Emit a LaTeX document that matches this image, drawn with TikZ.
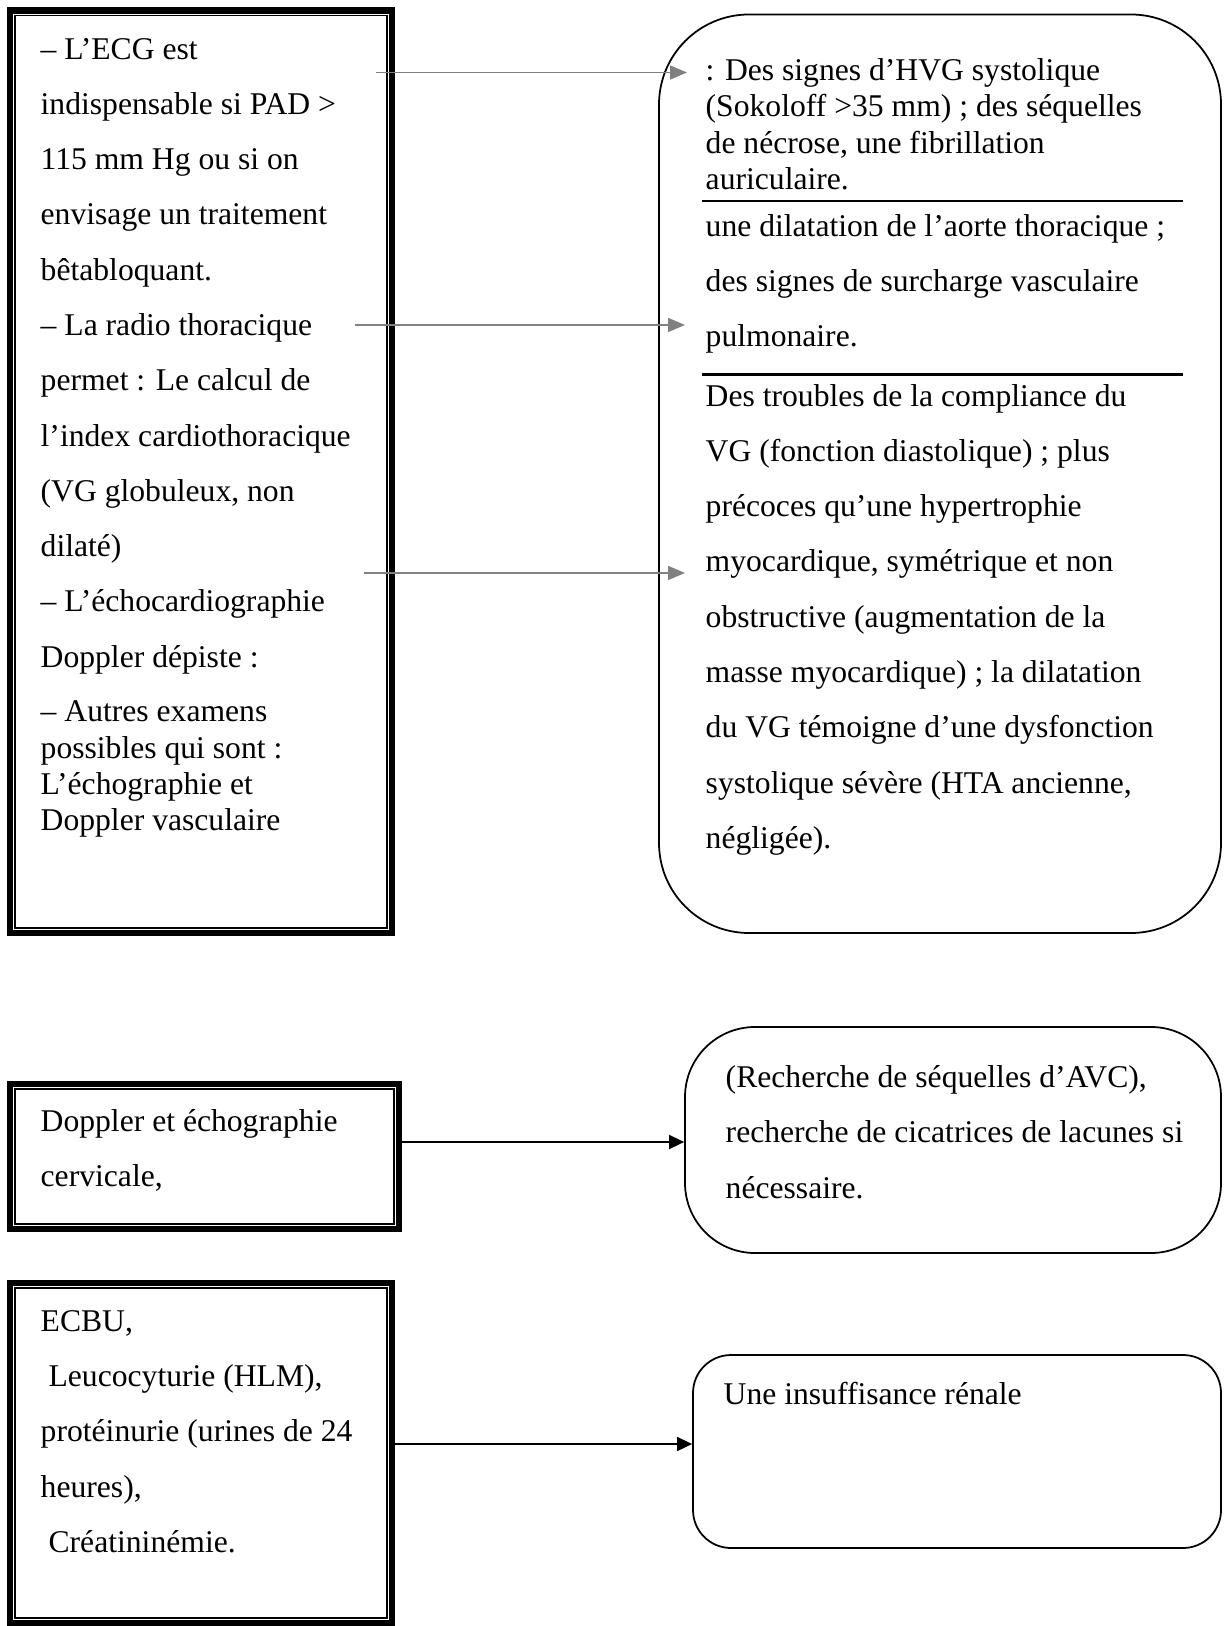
\documentclass[tikz,border=0pt]{standalone}
\usepackage{fontspec}
\setmainfont{Liberation Serif}
\usepackage{tikz}
\usetikzlibrary{arrows.meta,positioning,calc}

\begin{document}
\begin{tikzpicture}[
    outerframe/.style={draw, line width=1.8pt, inner sep=0pt},
    innerframe/.style={draw, line width=0.45pt},
    roundbox/.style={draw, line width=0.5pt, inner sep=0pt},
    txt/.style={anchor=north west, inner sep=0pt, align=left,
      font=\fontsize{9}{15.73}\selectfont},
    txtsingle/.style={txt, font=\fontsize{9}{10.33}\selectfont},
    rule/.style={line width=0.7pt},
    grayarrow/.style={draw=gray, line width=0.45pt,
      -{Triangle[length=1.7mm, width=1.4mm]}},
    blackarrow/.style={draw=black, line width=0.45pt,
      -{Triangle[length=1.5mm, width=1.4mm]}}
]
\useasboundingbox (0,0) rectangle (12.24,-16.26);

% ---- Bloc du haut ----
\node[outerframe, minimum width=3.82cm, minimum height=9.225cm] (ecgbox) at (2.01,-4.7175) {};
\draw[innerframe] ([shift={(0.08,-0.08)}]ecgbox.north west) rectangle ([shift={(-0.08,0.08)}]ecgbox.south east);

\node[txt] (ecg) at (0.40,-0.374) {– L’ECG est\\
  indispensable si PAD >\\
  115 mm Hg ou si on\\
  envisage un traitement\\
  bêtabloquant.\\
  – La radio thoracique\\
  permet : Le calcul de\\
  l’index cardiothoracique\\
  (VG globuleux, non\\
  dilaté)\\
  – L’échocardiographie\\
  Doppler dépiste :};
\node[txtsingle] (autres) at (0.40,-7.003) {– Autres examens\\
  possibles qui sont :\\
  L’échographie et\\
  Doppler vasculaire};

\node[roundbox, rounded corners=0.9cm, minimum width=5.62cm, minimum height=9.185cm] (signes) at (9.40,-4.7375) {};

\node[txtsingle] (hvg) at (7.05,-0.579) {: Des signes d’HVG systolique\\
  (Sokoloff >35 mm) ; des séquelles\\
  de nécrose, une fibrillation\\
  auriculaire.};
\draw[rule] (7.02,-2.01) -- (11.83,-2.01);
\node[txt] (aorte) at (7.05,-2.134) {une dilatation de l’aorte thoracique ;\\
  des signes de surcharge vasculaire\\
  pulmonaire.};
\draw[rule] (7.02,-3.745) -- (11.83,-3.745);
\node[txt] (compliance) at (7.05,-3.834) {Des troubles de la compliance du\\
  VG (fonction diastolique) ; plus\\
  précoces qu’une hypertrophie\\
  myocardique, symétrique et non\\
  obstructive (augmentation de la\\
  masse myocardique) ; la dilatation\\
  du VG témoigne d’une dysfonction\\
  systolique sévère (HTA ancienne,\\
  négligée).};

% Flèches grises
\coordinate (ecgstart) at (3.76,-0.725);
\coordinate (ecgend) at (6.87,-0.725);
\coordinate (radiostart) at (3.55,-3.25);
\coordinate (radioend) at (6.85,-3.25);
\coordinate (echostart) at (3.64,-5.73);
\coordinate (echoend) at (6.85,-5.73);
\draw[grayarrow] (ecgstart) -- (ecgend);
\draw[grayarrow] (radiostart) -- (radioend);
\draw[grayarrow] (echostart) -- (echoend);

% ---- Bloc du milieu ----
\node[outerframe, minimum width=3.89cm, minimum height=1.45cm] (dopbox) at (2.045,-11.565) {};
\draw[innerframe] ([shift={(0.08,-0.08)}]dopbox.north west) rectangle ([shift={(-0.08,0.08)}]dopbox.south east);
\node[txt] (dop) at (0.40,-11.084) {Doppler et échographie\\
  cervicale,};

\node[roundbox, rounded corners=0.7cm, minimum width=5.36cm, minimum height=2.26cm] (avcbox) at (9.53,-11.40) {};
\node[txt] (avc) at (7.25,-10.65) {(Recherche de séquelles d’AVC),\\
  recherche de cicatrices de lacunes si\\
  nécessaire.};

\coordinate (avcin) at ([yshift=-0.02cm]avcbox.west);
\draw[blackarrow] (dopbox.east |- avcin) -- (avcin);

% ---- Bloc du bas ----
\node[outerframe, minimum width=3.82cm, minimum height=3.40cm] (ecbubox) at (2.01,-14.53) {};
\draw[innerframe] ([shift={(0.08,-0.08)}]ecbubox.north west) rectangle ([shift={(-0.08,0.08)}]ecbubox.south east);
\node[txt] (ecbu) at (0.40,-13.096) {ECBU,\\
  \ Leucocyturie (HLM),\\
  protéinurie (urines de 24\\
  heures),\\
  \ Créatininémie.};

\node[roundbox, rounded corners=0.38cm, minimum width=5.28cm, minimum height=1.93cm] (renalbox) at (9.57,-14.515) {};
\node[txt] (renal) at (7.23,-13.814) {Une insuffisance rénale};

\coordinate (renalin) at ([yshift=0.075cm]renalbox.west);
\draw[blackarrow] (ecbubox.east |- renalin) -- (renalin);

\end{tikzpicture}
\end{document}
